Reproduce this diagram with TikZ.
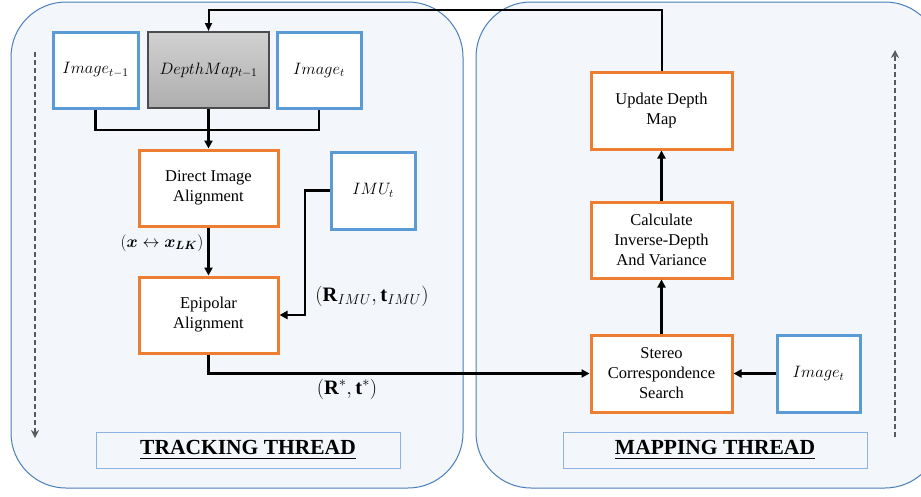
\documentclass[tikz,border=0pt]{standalone}
\usepackage{fix-cm}
\usepackage{amsmath,bm}
\usepackage{fontspec}
\setmainfont{Liberation Serif}
\usetikzlibrary{arrows.meta}
\definecolor{orng}{HTML}{ED7D31}
\definecolor{blu}{HTML}{5B9BD5}
\definecolor{panelb}{HTML}{4A7EBB}
\definecolor{panelf}{HTML}{F3F7FB}
\definecolor{thrb}{HTML}{8DB3E2}
\definecolor{dash}{HTML}{595959}
\tikzset{
  panel/.style={draw=panelb,fill=panelf,line width=1pt,rounded corners=55pt},
  procbox/.style={draw=orng,fill=white,line width=3pt,inner sep=0pt,align=center,font=\fontsize{16.5}{20}\selectfont},
  inbox/.style={draw=blu,fill=white,line width=3pt,inner sep=0pt,align=center,font=\fontsize{16.5}{20}\selectfont},
  graybox/.style={draw=black!70,line width=2pt,top color=black!18,bottom color=black!32,inner sep=0pt,font=\fontsize{16.5}{20}\selectfont},
  thrbox/.style={draw=thrb,fill=panelf,line width=1pt,minimum width=304pt,minimum height=36pt,inner sep=0pt,font=\fontsize{21.5}{24}\selectfont\bfseries},
  arr/.style={line width=2.5pt,-{Triangle[length=8pt,width=8pt]}},
  ln/.style={line width=2.5pt},
  fbarr/.style={line width=2pt,-{Triangle[length=8pt,width=7pt]}},
  dasharr/.style={draw=dash,line width=1.7pt,dash pattern=on 5pt off 3pt,-{Stealth[length=8pt,width=8pt,open]}},
  lbl/.style={inner sep=0pt,font=\fontsize{17}{20}\selectfont}
}
\begin{document}
\begin{tikzpicture}[x=1pt,y=-1pt]
\useasboundingbox (0,0) rectangle (921,496);
\begin{scope}
\clip (0,0) rectangle (921,496);
\draw[panel] (11,2) rectangle (463,488);
\draw[panel] (476,2) rectangle (940,488);
\end{scope}
% dashed side arrows
\coordinate (ls) at (35,52);
\coordinate (le) at (35,438);
\coordinate (rs) at (895,437);
\coordinate (re) at (895,50);
\draw[dasharr] (ls) -- (le);
\draw[dasharr] (rs) -- (re);
% tracking boxes
\node[inbox,minimum width=85pt,minimum height=76pt] (img1) at (95.5,70) {$Image_{t-1}$};
\node[graybox,minimum width=121pt,minimum height=76pt] (dm) at (208.5,70) {$DepthMap_{t-1}$};
\node[inbox,minimum width=84pt,minimum height=76pt] (imgt) at (319,70) {$Image_{t}$};
\node[procbox,minimum width=139pt,minimum height=76pt] (dia) at (208.5,188) {Direct Image\\Alignment};
\node[inbox,minimum width=84pt,minimum height=77pt] (imu) at (373,190.5) {$IMU_{t}$};
\node[procbox,minimum width=139pt,minimum height=76pt] (epi) at (208.5,315) {Epipolar\\Alignment};
% mapping boxes
\node[procbox,minimum width=141pt,minimum height=77pt] (upd) at (661.5,110.5) {Update Depth\\Map};
\node[procbox,minimum width=141pt,minimum height=76pt] (calc) at (661.5,240) {Calculate\\Inverse-Depth\\And Variance};
\node[procbox,minimum width=141pt,minimum height=77pt] (ster) at (661.5,373.5) {Stereo\\Correspondence\\Search};
\node[inbox,minimum width=83pt,minimum height=77pt] (imgr) at (818.5,373.5) {$Image_{t}$};
% thread labels
\node[thrbox] (tt) at (248,450) {\underline{TRACKING THREAD}};
\node[thrbox] (mt) at (715,450) {\underline{MAPPING THREAD}};
% connectors
\coordinate (mg) at (208.5,130);
\draw[ln] (img1.south) |- (mg) -| (imgt.south);
\draw[arr] (dm.south) -- (dia.north);
\draw[arr] (dia.south) -- (epi.north);
\coordinate (imuk) at (305,190.5);
\draw[arr] (imu.west) -- (imuk) |- (epi.east);
\draw[arr] (epi.south) |- (ster.west);
\draw[arr] (imgr.west) -- (ster.east);
\draw[arr] (ster.north) -- (calc.south);
\draw[arr] (calc.north) -- (upd.south);
\coordinate (fb) at (208.5,10);
\draw[fbarr] (upd.north) |- (fb) -- (dm.north);
% edge labels
\node[lbl,font=\fontsize{17}{20}\selectfont] (l1) at (162,243) {$(\bm{x} \leftrightarrow \bm{x}_{\bm{L}\bm{K}})$};
\node[lbl,font=\fontsize{20.5}{24}\selectfont] (l2) at (372,296) {$(\mathbf{R}_{IMU},\mathbf{t}_{IMU})$};
\node[lbl,font=\fontsize{20.5}{24}\selectfont] (l3) at (347,389) {$(\mathbf{R}^{*},\mathbf{t}^{*})$};
\end{tikzpicture}
\end{document}
